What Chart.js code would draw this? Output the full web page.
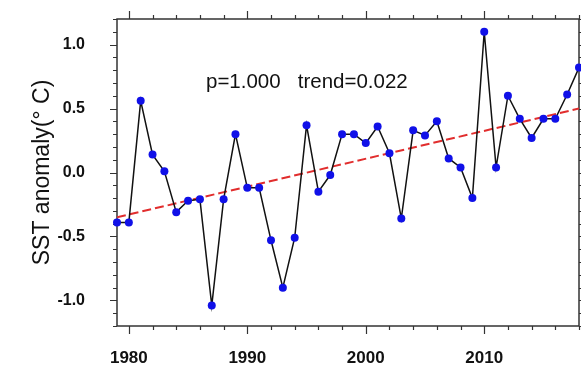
<!DOCTYPE html>
<html>

<head>
    <style>
        body {
            margin: 0;
            background: #fff;
        }

        canvas {
            display: block;
        }
    </style>
    <script src="https://cdn.jsdelivr.net/npm/chart.js"></script>
</head>

<body>
    <canvas id="sstChart" width="581" height="365"></canvas>

    <script>
        // data
        const years = [1979, 1980, 1981, 1982, 1983, 1984, 1985, 1986, 1987, 1988,
            1989, 1990, 1991, 1992, 1993, 1994, 1995, 1996, 1997, 1998,
            1999, 2000, 2001, 2002, 2003, 2004, 2005, 2006, 2007, 2008,
            2009, 2010, 2011, 2012, 2013, 2014, 2015, 2016, 2017, 2018];
        const sstValues = [-0.39, -0.39, 0.56, 0.14, 0.01, -0.31, -0.22, -0.21, -1.04, -0.21,
            0.30, -0.12, -0.12, -0.53, -0.90, -0.51, 0.37, -0.15, -0.02, 0.30,
            0.30, 0.23, 0.36, 0.15, -0.36, 0.33, 0.29, 0.40, 0.11, 0.04,
            -0.20, 1.10, 0.04, 0.60, 0.42, 0.27, 0.42, 0.42, 0.61, 0.82];
        const trendYears = [1979, 2018];
        const trendValues = [-0.35, 0.50];
        const xTickValues = [1980, 1990, 2000, 2010];
        const yTickValues = [-1.0, -0.5, 0.0, 0.5, 1.0];
        const statsText = 'p=1.000   trend=0.022';

        const fontName = '"Liberation Sans", Arial, Helvetica, sans-serif';

        // box + major/minor tick marks (NCL look)
        const frameTicks = {
            id: 'frameTicks',
            beforeDatasetsDraw(chart) {
                const { ctx, chartArea: a, scales: { x, y } } = chart;
                ctx.save();
                ctx.strokeStyle = '#333';
                ctx.lineWidth = 1.5;
                ctx.strokeRect(a.left, a.top, a.right - a.left, a.bottom - a.top);
                ctx.lineWidth = 1.2;
                ctx.beginPath();
                for (let v = 1980; v <= x.max; v += 2) {
                    const px = Math.round(x.getPixelForValue(v)) + 0.5;
                    const len = v % 10 === 0 ? 8 : 4;
                    ctx.moveTo(px, a.bottom); ctx.lineTo(px, a.bottom + len);
                    ctx.moveTo(px, a.top); ctx.lineTo(px, a.top - len);
                }
                for (let k = -12; k <= 12; k++) {
                    const py = Math.round(y.getPixelForValue(k / 10)) + 0.5;
                    const len = k % 5 === 0 ? 7 : 4;
                    ctx.moveTo(a.left, py); ctx.lineTo(a.left - len, py);
                    ctx.moveTo(a.right, py); ctx.lineTo(a.right + len, py);
                }
                ctx.stroke();
                ctx.restore();
            },
            afterDraw(chart) {
                const { ctx, chartArea: a } = chart;
                ctx.save();
                ctx.fillStyle = '#111';
                ctx.font = '20.5px ' + fontName;
                ctx.textAlign = 'left';
                ctx.textBaseline = 'middle';
                ctx.fillText(statsText, a.left + 89, a.top + 63);
                ctx.restore();
            }
        };

        const sstPoints = years.map((yr, i) => ({ x: yr, y: sstValues[i] }));
        const trendPoints = trendYears.map((yr, i) => ({ x: yr, y: trendValues[i] }));

        new Chart(document.getElementById('sstChart'), {
            type: 'scatter',
            data: {
                datasets: [{
                    data: sstPoints,
                    showLine: true,
                    borderColor: '#111',
                    borderWidth: 1.5,
                    pointRadius: 4,
                    pointBackgroundColor: '#1010e8',
                    pointBorderWidth: 0,
                    clip: false
                }, {
                    data: trendPoints,
                    showLine: true,
                    borderColor: 'rgb(225,45,45)',
                    borderWidth: 2,
                    borderDash: [9, 4],
                    pointRadius: 0
                }]
            },
            options: {
                responsive: false,
                animation: false,
                layout: { autoPadding: false, padding: { top: 19, right: 2, left: 0, bottom: 0 } },
                plugins: {
                    legend: { display: false },
                    tooltip: { enabled: false }
                },
                scales: {
                    x: {
                        type: 'linear',
                        min: 1979,
                        max: 2018,
                        grid: { display: false },
                        border: { display: false },
                        afterBuildTicks: scale => {
                            scale.ticks = xTickValues.map(v => ({ value: v }));
                        },
                        afterFit: scale => {
                            scale.height = 39;
                            scale.paddingLeft = 0;
                            scale.paddingRight = 0;
                        },
                        ticks: {
                            color: '#111',
                            font: { family: fontName, size: 17, weight: 'bold' },
                            padding: 14,
                            maxRotation: 0,
                            callback: v => String(v)
                        }
                    },
                    y: {
                        min: -1.2,
                        max: 1.2,
                        grid: { display: false },
                        border: { display: false },
                        afterBuildTicks: scale => {
                            scale.ticks = yTickValues.map(v => ({ value: v }));
                        },
                        afterFit: scale => {
                            scale.width = 117;
                            scale.paddingTop = 0;
                            scale.paddingBottom = 0;
                        },
                        ticks: {
                            color: '#111',
                            font: { family: fontName, size: 16, weight: 'bold' },
                            padding: 24,
                            callback: v => Number(v).toFixed(1)
                        },
                        title: {
                            display: true,
                            text: 'SST anomaly(° C)',
                            color: '#111',
                            font: { family: fontName, size: 23 },
                            padding: { top: 29, bottom: 0 }
                        }
                    }
                }
            },
            plugins: [frameTicks]
        });
    </script>
</body>

</html>
